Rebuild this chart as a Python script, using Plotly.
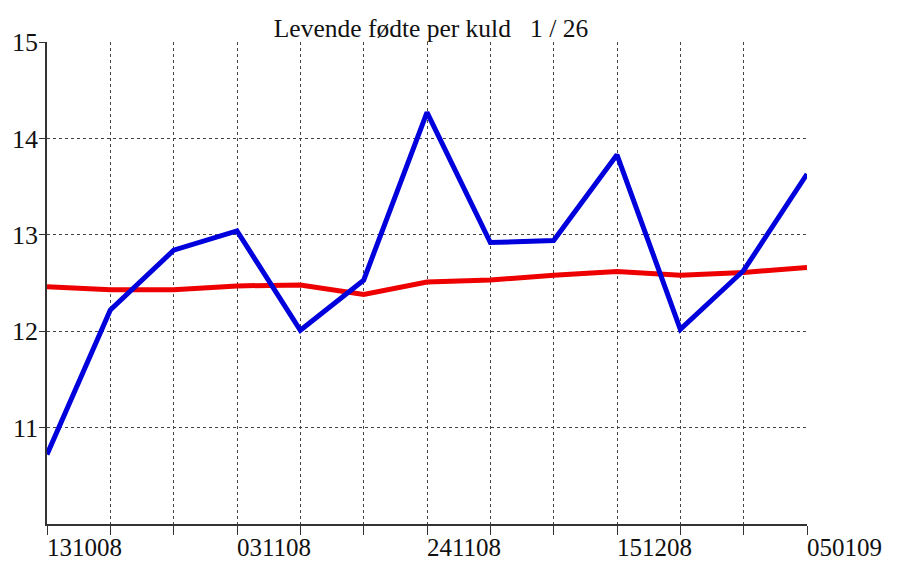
import plotly.graph_objects as go

weeks = list(range(13))
blue_values = [10.72, 12.22, 12.84, 13.04, 12.01, 12.53, 14.27, 12.92, 12.94, 13.83, 12.02, 12.63, 13.63]
red_values = [12.46, 12.43, 12.43, 12.47, 12.48, 12.38, 12.51, 12.53, 12.58, 12.62, 12.58, 12.61, 12.66]
tick_positions = [0, 3, 6, 9, 12]
tick_labels = ["131008", "031108", "241108", "151208", "050109"]
y_ticks = [11, 12, 13, 14, 15]
title_text = "Levende fødte per kuld\u00a0\u00a0\u00a01 / 26"

fig = go.Figure()
fig.add_trace(go.Scatter(x=weeks, y=red_values, mode="lines",
                         line=dict(color="#ee0000", width=5), showlegend=False))
fig.add_trace(go.Scatter(x=weeks, y=blue_values, mode="lines",
                         line=dict(color="#0000dd", width=5), showlegend=False))

font = "Liberation Serif, Times New Roman, serif"
fig.update_layout(
    width=891, height=565,
    margin=dict(l=39, r=92, t=34, b=49),
    paper_bgcolor="white", plot_bgcolor="white",
    title=dict(text=title_text, x=0.4747, xanchor="center", y=0.9646, yanchor="middle",
               font=dict(family=font, size=25.5, color="#111")),
    font=dict(family=font, color="#111"),
)
fig.update_xaxes(
    range=[0, 12], tickmode="array", tickvals=weeks,
    ticktext=[""] * len(weeks), automargin=False,
    showgrid=True, gridcolor="#444", griddash="dot", gridwidth=1,
    showline=True, linecolor="#333", linewidth=1.5,
    ticks="outside", ticklen=9, tickcolor="#333",
    zeroline=False,
)
for pos, lab in zip(tick_positions, tick_labels):
    fig.add_annotation(x=pos, y=0, xref="x", yref="paper", text=lab,
                       showarrow=False, xanchor="left", yanchor="top", yshift=-8,
                       xshift=-2, font=dict(family=font, size=25, color="#111"))
fig.update_yaxes(
    range=[10, 15], tickmode="array", tickvals=y_ticks,
    ticktext=[str(v) for v in y_ticks], automargin=False,
    showgrid=True, gridcolor="#444", griddash="dot", gridwidth=1,
    showline=True, linecolor="#333", linewidth=1.5,
    ticks="outside", ticklen=6, tickcolor="#333",
    ticklabelstandoff=-4,
    tickfont=dict(family=font, size=26, color="#111"),
    zeroline=False,
)
fig.write_html("out.html")
